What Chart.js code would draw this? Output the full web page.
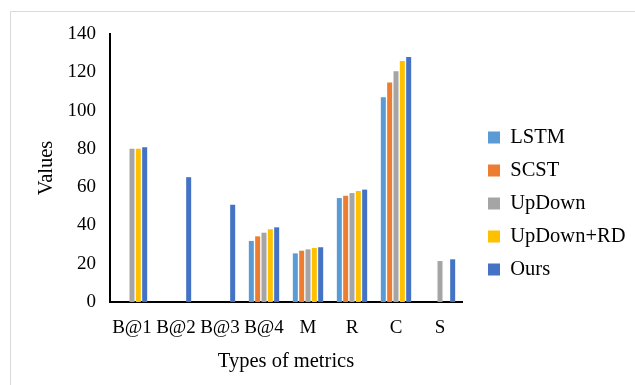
<!DOCTYPE html>
<html>
<head>
<meta charset="utf-8">
<script src="https://cdn.jsdelivr.net/npm/chart.js@4"></script>
<style>
  html, body { margin: 0; padding: 0; background: #ffffff; }
  #wrap { width: 635px; height: 385px; }
</style>
</head>
<body>
<div id="wrap"><canvas id="c" width="635" height="385"></canvas></div>
<script>
// Metric categories on the x axis
const categories = ['B@1', 'B@2', 'B@3', 'B@4', 'M', 'R', 'C', 'S'];

// Scores per method (null = not reported)
const lstm      = [null, null, null, 31.9, 25.4, 54.3, 106.9, null];
const scst      = [null, null, null, 34.3, 26.8, 55.5, 114.6, null];
const upDown    = [80.1, null, null, 36.2, 27.5, 56.9, 120.5, 21.4];
const upDownRD  = [80.1, null, null, 38.0, 28.2, 58.0, 125.9, null];
const ours      = [80.8, 65.2, 50.8, 39.0, 28.6, 58.7, 128.0, 22.3];

// Value axis ticks
const yTicks = [0, 20, 40, 60, 80, 100, 120, 140];

const seriesNames  = ['LSTM', 'SCST', 'UpDown', 'UpDown+RD', 'Ours'];
const seriesData   = [lstm, scst, upDown, upDownRD, ours];
const seriesColors = ['#5B9BD5', '#ED7D31', '#A5A5A5', '#FFC000', '#4472C4'];

const FONT = "'Liberation Serif', 'Times New Roman', serif";

// Light outer frame around the chart object
const framePlugin = {
  id: 'frame',
  beforeDraw(chart) {
    const ctx = chart.ctx;
    ctx.save();
    ctx.strokeStyle = '#d9d9d9';
    ctx.lineWidth = 1;
    ctx.beginPath();
    ctx.moveTo(10.5, 385);
    ctx.lineTo(10.5, 11.5);
    ctx.lineTo(635, 11.5);
    ctx.stroke();
    ctx.restore();
  }
};

// Place the legend block to the right of the plot
const legendPlace = {
  id: 'legendPlace',
  afterLayout(chart) {
    const lg = chart.legend;
    if (!lg) return;
    lg.left = 475.5;
    lg.right = 635;
    lg.top = 114.8;
    lg.bottom = 385;
    lg.width = lg.right - lg.left;
    lg.height = lg.bottom - lg.top;
  }
};

new Chart(document.getElementById('c'), {
  type: 'bar',
  data: {
    labels: categories,
    datasets: seriesNames.map((name, i) => ({
      label: name,
      data: seriesData[i],
      backgroundColor: seriesColors[i],
      borderWidth: 0,
      barPercentage: 0.79,
      categoryPercentage: 0.72
    }))
  },
  options: {
    responsive: false,
    animation: false,
    devicePixelRatio: 1,
    layout: { padding: { left: 10, top: 34, right: 23, bottom: 0 } },
    plugins: {
      tooltip: { enabled: false },
      legend: {
        position: 'right',
        align: 'start',
        maxWidth: 150,
        labels: {
          boxWidth: 12,
          boxHeight: 12,
          padding: 12.5,
          color: '#000000',
          font: { family: FONT, size: 20.5 }
        }
      }
    },
    scales: {
      x: {
        grid: { display: false, drawTicks: false },
        border: { display: true, color: '#000000', width: 2 },
        ticks: {
          color: '#000000',
          font: { family: FONT, size: 19 },
          padding: 15,
          maxRotation: 0,
          autoSkip: false
        },
        title: {
          display: true,
          text: 'Types of metrics',
          color: '#000000',
          font: { family: FONT, size: 20.5 },
          padding: { top: 0, bottom: 11 }
        },
        afterFit(scale) { scale.height = 83; }
      },
      y: {
        min: 0,
        max: 140,
        grid: { display: false, drawTicks: false },
        border: { display: true, color: '#000000', width: 2 },
        afterBuildTicks(scale) { scale.ticks = yTicks.map(v => ({ value: v })); },
        ticks: {
          color: '#000000',
          font: { family: FONT, size: 19 },
          padding: 14
        },
        title: {
          display: true,
          text: 'Values',
          color: '#000000',
          font: { family: FONT, size: 20.5 },
          padding: { top: 24, bottom: 0 }
        },
        afterFit(scale) { scale.width = 100; }
      }
    }
  },
  plugins: [framePlugin, legendPlace]
});
</script>
</body>
</html>
